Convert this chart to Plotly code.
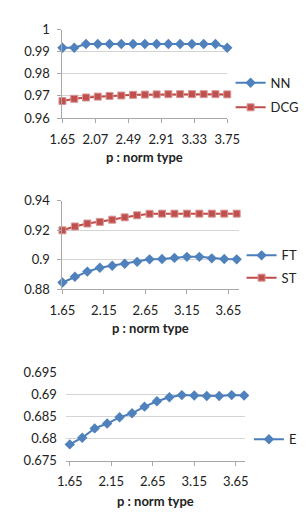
import plotly.graph_objects as go

# ---- data ----
p_values = [1.65, 1.80, 1.95, 2.10, 2.25, 2.40, 2.55, 2.70, 2.85, 3.00, 3.15, 3.30, 3.45, 3.60, 3.75]

nn = [0.9918, 0.9918, 0.9935, 0.9935, 0.9935, 0.9935, 0.9935, 0.9935, 0.9935, 0.9935, 0.9935, 0.9935, 0.9935, 0.9935, 0.9918]
dcg = [0.9677, 0.9687, 0.9693, 0.9697, 0.9700, 0.9702, 0.9705, 0.9706, 0.9707, 0.9708, 0.9708, 0.9708, 0.9708, 0.9708, 0.9707]

ft = [0.8846, 0.8885, 0.8920, 0.8946, 0.8960, 0.8973, 0.8986, 0.9003, 0.9005, 0.9013, 0.9020, 0.9020, 0.9010, 0.9005, 0.9003]
st = [0.9200, 0.9226, 0.9246, 0.9257, 0.9272, 0.9288, 0.9302, 0.9312, 0.9313, 0.9313, 0.9313, 0.9313, 0.9313, 0.9313, 0.9313]

e_vals = [0.6787, 0.6802, 0.6823, 0.6834, 0.6848, 0.6857, 0.6872, 0.6884, 0.6893, 0.6898, 0.6897, 0.6896, 0.6896, 0.6898, 0.6897]

x1_ticks = [1.65, 2.07, 2.49, 2.91, 3.33, 3.75]
x1_labels = ["1.65", "2.07", "2.49", "2.91", "3.33", "3.75"]
x23_ticks = [1.65, 2.15, 2.65, 3.15, 3.65]
x23_labels = ["1.65", "2.15", "2.65", "3.15", "3.65"]

y1_ticks = [0.96, 0.97, 0.98, 0.99, 1.0]
y1_labels = ["0.96", "0.97", "0.98", "0.99", "1"]
y2_ticks = [0.88, 0.90, 0.92, 0.94]
y2_labels = ["0.88", "0.9", "0.92", "0.94"]
y3_ticks = [0.675, 0.68, 0.685, 0.69, 0.695]
y3_labels = ["0.675", "0.68", "0.685", "0.69", "0.695"]

x_title = "p : norm type"

# ---- styles ----
W, H = 307, 519
FONT = "Lato"
BLUE_LINE = "#4A7EBB"
BLUE_MK = "#4F81BD"
RED_LINE = "#BE4B48"
RED_MK = "#C0504D"
GRID = "#D4D4D4"
AXIS = "#A8A8A8"
TXT = "#222222"


def px_x(v):
    return v / W


def px_y(v):
    return 1 - v / H


def blue(x, y, name, xa, ya, leg):
    return go.Scatter(x=x, y=y, name=name, mode="lines+markers", xaxis=xa, yaxis=ya,
                      legend=leg, cliponaxis=False,
                      line=dict(color=BLUE_LINE, width=2),
                      marker=dict(symbol="diamond", size=8, color=BLUE_MK))


def red(x, y, name, xa, ya, leg):
    return go.Scatter(x=x, y=y, name=name, mode="lines+markers", xaxis=xa, yaxis=ya,
                      legend=leg, cliponaxis=False,
                      line=dict(color=RED_LINE, width=2),
                      marker=dict(symbol="square", size=7, color=RED_MK,
                                  line=dict(color="#D99694", width=1)))


fig = go.Figure()
fig.add_trace(blue(p_values, nn, "NN", "x", "y", "legend"))
fig.add_trace(red(p_values, dcg, "DCG", "x", "y", "legend2"))
fig.add_trace(blue(p_values, ft, "FT", "x2", "y2", "legend3"))
fig.add_trace(red(p_values, st, "ST", "x2", "y2", "legend4"))
fig.add_trace(blue(p_values, e_vals, "E", "x3", "y3", "legend5"))

tickfont = dict(family=FONT, size=13, color=TXT)


def xaxis(dom, rng, tv, tt, anchor):
    return dict(domain=dom, range=rng, anchor=anchor, tickvals=tv, ticktext=tt,
                showgrid=False, zeroline=False, showline=True, linecolor=AXIS, linewidth=1,
                ticks="outside", ticklen=4, tickcolor=AXIS, tickfont=tickfont,
                ticklabelstandoff=5, fixedrange=True)


def yaxis(dom, rng, tv, tt, anchor, line=True):
    return dict(domain=dom, range=rng, anchor=anchor, tickvals=tv, ticktext=tt,
                showgrid=True, gridcolor=GRID, gridwidth=1, zeroline=False,
                showline=line, linecolor=AXIS, linewidth=1,
                ticks="outside" if line else "", ticklen=4, tickcolor=AXIS,
                tickfont=tickfont, ticklabelstandoff=5 if line else 8, fixedrange=True)


fig.update_layout(
    width=W, height=H,
    margin=dict(l=0, r=0, t=0, b=0),
    paper_bgcolor="white", plot_bgcolor="white",
    font=dict(family=FONT, size=13, color=TXT),
    xaxis=xaxis([px_x(45.3), px_x(225.3)], [1.65, 3.75], x1_ticks, x1_labels, "y"),
    yaxis=yaxis([px_y(105.3), px_y(14)], [0.96, 1.0], y1_ticks, y1_labels, "x"),
    xaxis2=xaxis([px_x(45.3), px_x(238)], [1.65, 3.776], x23_ticks, x23_labels, "y2"),
    yaxis2=yaxis([px_y(282), px_y(190.7)], [0.88, 0.94], y2_ticks, y2_labels, "x2"),
    xaxis3=xaxis([px_x(49), px_x(244.3)], [1.6026, 3.756], x23_ticks, x23_labels, "y3"),
    yaxis3=yaxis([px_y(459), px_y(367.3)], [0.675, 0.695], y3_ticks, y3_labels, "x3", line=False),
    showlegend=True,
)

leg_common = dict(xanchor="left", yanchor="middle", bgcolor="rgba(0,0,0,0)",
                  borderwidth=0, font=dict(family=FONT, size=13, color=TXT),
                  itemclick=False, itemdoubleclick=False)
legend_pos = {
    "legend": (271, 69),
    "legend2": (271, 94.3),
    "legend3": (283, 247),
    "legend4": (283, 270),
    "legend5": (291, 436.7),
}
for key, (tx, ty) in legend_pos.items():
    fig.update_layout({key: dict(x=px_x(tx - 42), y=px_y(ty), **leg_common)})

for cx, cy in [(135.3, 145.7), (141.7, 322.3), (146.7, 500)]:
    fig.add_annotation(text=x_title, x=px_x(cx), y=px_y(cy), xref="paper", yref="paper",
                       showarrow=False, xanchor="center", yanchor="middle",
                       font=dict(family=FONT, size=13, color=TXT, weight="bold"))

fig.write_html("out.html", config={"displayModeBar": False})
